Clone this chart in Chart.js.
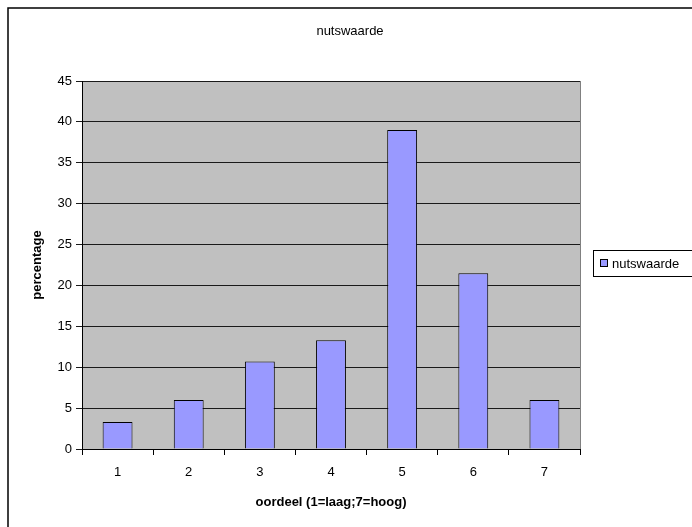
<!DOCTYPE html>
<html>
<head>
<meta charset="utf-8">
<title>nutswaarde</title>
<script src="https://cdn.jsdelivr.net/npm/chart.js@4.4.1/dist/chart.umd.min.js"></script>
<style>
  html, body { margin: 0; padding: 0; background: #fff; }
  #wrap { width: 692px; height: 527px; position: relative; }
</style>
</head>
<body>
<div id="wrap"><canvas id="grafiek" width="692" height="527"></canvas></div>
<script>
const oordelen = ['1', '2', '3', '4', '5', '6', '7'];
const percentages = [3.3, 6.0, 10.7, 13.3, 39.0, 21.5, 6.0];
const reeksNaam = 'nutswaarde';
const titel = 'nutswaarde';
const yTitel = 'percentage';
const xTitel = 'oordeel (1=laag;7=hoog)';
const yMax = 45;
const yStap = 5;

const lettertype = "'Liberation Sans', Arial, sans-serif";
const balkKleur = '#9999FF';

// grijze plotachtergrond, kader, titel en legenda (Excel-stijl)
const excelStijl = {
  id: 'excelStijl',
  beforeDraw(chart) {
    const { ctx, chartArea: a } = chart;
    ctx.save();
    ctx.fillStyle = '#fff';
    ctx.fillRect(0, 0, chart.width, chart.height);
    ctx.fillStyle = '#C0C0C0';
    ctx.fillRect(a.left, a.top, a.right - a.left, a.bottom - a.top);
    // buitenkader
    ctx.strokeStyle = '#000';
    ctx.lineWidth = 1.5;
    ctx.strokeRect(8, 8, chart.width + 20, chart.height + 20);
    ctx.restore();
  },
  afterDraw(chart) {
    const { ctx, chartArea: a } = chart;
    ctx.save();
    // rechterrand van het plotvlak
    ctx.strokeStyle = '#808080';
    ctx.lineWidth = 1;
    ctx.beginPath();
    ctx.moveTo(a.right + 0.5, a.top);
    ctx.lineTo(a.right + 0.5, a.bottom);
    ctx.stroke();

    // titel
    ctx.fillStyle = '#000';
    ctx.font = '13px ' + lettertype;
    ctx.textAlign = 'center';
    ctx.textBaseline = 'middle';
    ctx.fillText(titel, 350, 31);

    // legenda
    const lx = 593.5, ly = 250.5;
    ctx.fillStyle = '#fff';
    ctx.fillRect(lx, ly, 120, 26);
    ctx.strokeStyle = '#000';
    ctx.strokeRect(lx, ly, 120, 26);
    ctx.fillStyle = balkKleur;
    ctx.fillRect(600.5, 259.5, 7, 7);
    ctx.strokeRect(600.5, 259.5, 7, 7);
    ctx.fillStyle = '#000';
    ctx.textAlign = 'left';
    ctx.fillText(chart.data.datasets[0].label, 612, 264);
    ctx.restore();
  }
};

new Chart(document.getElementById('grafiek'), {
  type: 'bar',
  data: {
    labels: oordelen,
    datasets: [{
      label: reeksNaam,
      data: percentages,
      backgroundColor: balkKleur,
      borderColor: '#000',
      borderWidth: 1,
      categoryPercentage: 1,
      barPercentage: 0.42
    }]
  },
  options: {
    responsive: false,
    animation: false,
    layout: { padding: { left: 30, top: 81, right: 112, bottom: 14 } },
    plugins: {
      legend: { display: false },
      title: { display: false },
      tooltip: { enabled: false }
    },
    scales: {
      x: {
        grid: { drawOnChartArea: false, offset: true, color: '#000', tickLength: 6 },
        border: { color: '#000' },
        ticks: { color: '#000', font: { family: lettertype, size: 13 }, padding: 10 },
        title: {
          display: true, text: xTitel, color: '#000',
          font: { family: lettertype, size: 13, weight: 'bold' },
          padding: { top: 4, bottom: 3 }
        },
        afterFit(scale) { scale.height = 64; }
      },
      y: {
        min: 0,
        max: yMax,
        ticks: { stepSize: yStap, color: '#000', font: { family: lettertype, size: 13 }, padding: 4 },
        grid: { color: '#1a1a1a', tickLength: 6 },
        border: { color: '#000' },
        title: {
          display: true, text: yTitel, color: '#000',
          font: { family: lettertype, size: 13, weight: 'bold' },
          padding: { top: 0, bottom: 0 }
        },
        afterFit(scale) { scale.width = 52; }
      }
    }
  },
  plugins: [excelStijl]
});
</script>
</body>
</html>
